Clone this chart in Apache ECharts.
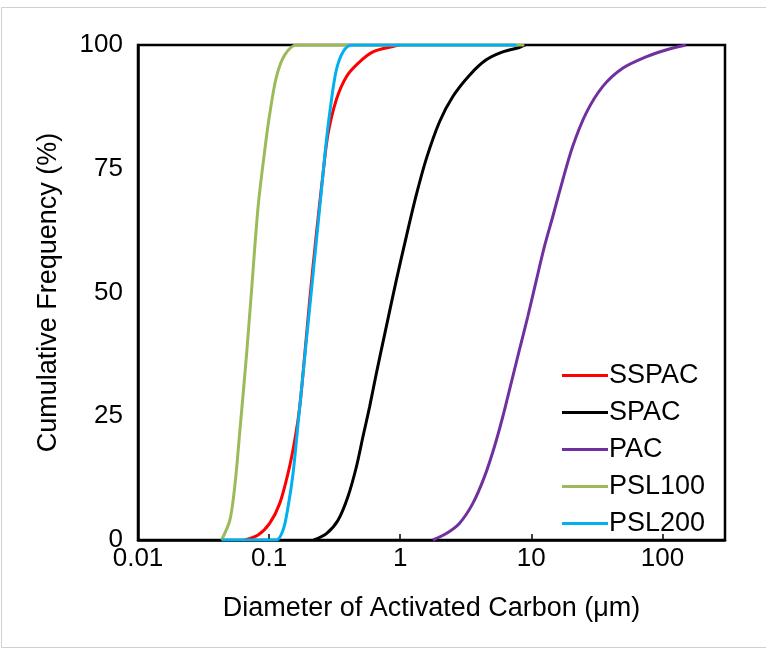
<!DOCTYPE html>
<html>
<head>
<meta charset="utf-8">
<script src="https://cdn.jsdelivr.net/npm/echarts@6/dist/echarts.min.js"></script>
<style>
  html, body { margin: 0; padding: 0; background: #fff; }
  #chart { width: 766px; height: 659px; }
</style>
</head>
<body>
<div id="chart"></div>
<script>
// Cumulative particle size distributions (diameter in µm, frequency in %)
const seriesNames = ['SSPAC', 'SPAC', 'PAC', 'PSL100', 'PSL200'];
const seriesColors = ['#ff0000', '#000000', '#7030a0', '#9bbb59', '#00b0f0'];

const sspacD = [0.0653, 0.0824, 0.1012, 0.1205, 0.1395, 0.157, 0.1714, 0.187, 0.204, 0.2296, 0.2577, 0.2812, 0.326, 0.3886, 0.4764, 0.619, 0.88, 0.99];
const sspacF = [0, 1, 3.4, 7.4, 13.5, 20.2, 27, 37.5, 48.5, 62, 74, 82, 89, 93.6, 96.3, 98.6, 99.7, 100];

const spacD = [0.219, 0.2737, 0.3353, 0.3996, 0.4633, 0.52, 0.585, 0.658, 0.76, 0.934, 1.113, 1.326, 1.58, 1.995, 2.52, 3.378, 4.525, 6.055, 8.11, 9.0];
const spacF = [0, 1.3, 4, 8.8, 14.8, 20.9, 27, 33.7, 41.5, 52.5, 61.3, 69.7, 77, 84.5, 89.6, 93.9, 97, 98.6, 99.5, 100];

const pacD = [1.775, 2.244, 2.835, 3.579, 4.394, 5.236, 6.056, 7.017, 8.11, 9.39, 10.88, 12.59, 14.56, 17.35, 20.66, 26.12, 34.98, 49.7, 74.9, 106.3, 151];
const pacF = [0, 1.3, 3.4, 7.4, 12.8, 18.9, 24.9, 31.7, 38.4, 45.1, 52.3, 59.3, 65.3, 72.7, 79.5, 86.2, 91.6, 95.3, 97.6, 99, 100];

const psl100D = [0.0434, 0.0502, 0.0548, 0.0598, 0.0673, 0.0735, 0.0824, 0.0927, 0.101, 0.1138, 0.1317, 0.1618, 0.3, 1, 3, 8.85];
const psl100F = [0, 4, 11, 22, 37.5, 50.5, 67.3, 78.8, 86, 93.6, 98, 100, 100, 100, 100, 100];

const psl200D = [0.0434, 0.07, 0.1138, 0.1278, 0.1395, 0.1524, 0.1664, 0.1817, 0.1984, 0.2104, 0.2296, 0.2507, 0.2737, 0.2988, 0.326, 0.366, 0.4246, 1, 3, 7.7];
const psl200F = [0, 0, 0, 2, 6.7, 13.5, 23.6, 33.7, 43.8, 50.5, 60.6, 70.7, 80.8, 88.9, 95, 98.6, 100, 100, 100, 100];

const xTickValues = [0.01, 0.1, 1, 10, 100];
const yTickValues = [0, 25, 50, 75, 100];

const pairs = (xs, ys) => xs.map((x, i) => [x, ys[i]]);
const seriesData = [
  pairs(sspacD, sspacF),
  pairs(spacD, spacF),
  pairs(pacD, pacF),
  pairs(psl100D, psl100F),
  pairs(psl200D, psl200F)
];

const FONT = 'Liberation Sans, Arial, sans-serif';
const chart = echarts.init(document.getElementById('chart'), null, { renderer: 'canvas' });

chart.setOption({
  backgroundColor: '#ffffff',
  animation: false,
  textStyle: { fontFamily: FONT, color: '#000' },
  graphic: [{
    type: 'rect',
    shape: { x: 1.5, y: 7.5, width: 800, height: 640 },
    style: { fill: 'none', stroke: '#d0d0d0', lineWidth: 1 },
    z: -1
  }],
  grid: {
    left: 138, right: 41, top: 45, bottom: 119,
    show: true, borderColor: '#000', borderWidth: 2.5, backgroundColor: 'transparent'
  },
  legend: {
    orient: 'vertical',
    left: 557, top: 357,
    icon: 'rect',
    itemWidth: 46, itemHeight: 3,
    itemGap: 10,
    data: seriesNames,
    textStyle: { fontFamily: FONT, fontSize: 27, color: '#000', lineHeight: 27, padding: [0, 0, 0, -4] }
  },
  xAxis: {
    type: 'log',
    logBase: 10,
    min: 0.01,
    max: 300,
    name: 'Diameter of Activated Carbon (μm)',
    nameLocation: 'middle',
    nameGap: 55,
    nameTextStyle: { fontFamily: FONT, fontSize: 27, color: '#000' },
    axisLine: { show: true, lineStyle: { color: '#000', width: 2.5 } },
    axisTick: { show: true, inside: true, length: 6, lineStyle: { color: '#000', width: 1.5 } },
    minorTick: { show: false },
    splitLine: { show: false },
    axisLabel: {
      fontFamily: FONT, fontSize: 26, color: '#000', margin: 6,
      showMaxLabel: false,
      formatter: v => {
        const hit = xTickValues.find(t => Math.abs(Math.log10(v) - Math.log10(t)) < 1e-6);
        return hit === undefined ? '' : String(hit);
      }
    }
  },
  yAxis: {
    type: 'value',
    min: yTickValues[0],
    max: yTickValues[yTickValues.length - 1],
    interval: 25,
    name: 'Cumulative Frequency (%)',
    nameLocation: 'middle',
    nameGap: 76,
    nameTextStyle: { fontFamily: FONT, fontSize: 27, color: '#000' },
    axisLine: { show: true, lineStyle: { color: '#000', width: 2.5 } },
    axisTick: { show: false },
    splitLine: { show: false },
    axisLabel: { fontFamily: FONT, fontSize: 26, color: '#000', margin: 15 }
  },
  series: seriesNames.map((name, i) => ({
    name,
    type: 'line',
    data: seriesData[i],
    smooth: 0.3,
    showSymbol: false,
    symbol: 'none',
    clip: true,
    lineStyle: { color: seriesColors[i], width: 3 },
    itemStyle: { color: seriesColors[i] },
    z: 3 + i
  }))
});
</script>
</body>
</html>
